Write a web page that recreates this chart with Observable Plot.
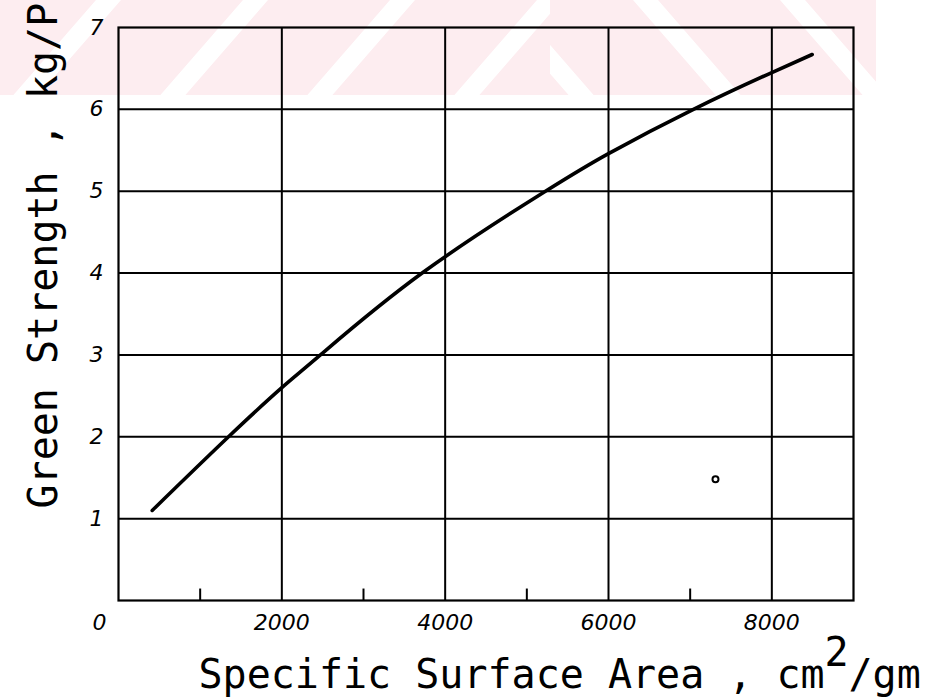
<!DOCTYPE html>
<html>
<head>
<meta charset="utf-8">
<script src="https://cdn.jsdelivr.net/npm/d3@7"></script>
<script src="https://cdn.jsdelivr.net/npm/@observablehq/plot@0.6"></script>
<style>
  html, body { margin: 0; padding: 0; background: #ffffff; }
  #wrap { position: relative; width: 927px; height: 700px; overflow: hidden; }
  #wm { position: absolute; top: 0; left: 0; z-index: 0; }
  #chart { position: absolute; top: 0; left: 0; z-index: 1; }
  #chart svg { background: transparent !important; }
</style>
</head>
<body>
<div id="wrap">
  <svg id="wm" width="927" height="95" aria-hidden="true">
    <defs>
      <pattern id="pl" patternUnits="userSpaceOnUse" width="147" height="95" patternTransform="skewX(-41)">
        <rect x="0" y="0" width="147" height="95" fill="#fdedf0"></rect>
        <rect x="96" y="0" width="25" height="95" fill="#ffffff"></rect>
      </pattern>
      <pattern id="pr" patternUnits="userSpaceOnUse" width="147" height="95" patternTransform="skewX(41)">
        <rect x="0" y="0" width="147" height="95" fill="#fdedf0"></rect>
        <rect x="45" y="0" width="25" height="95" fill="#ffffff"></rect>
      </pattern>
    </defs>
    <rect x="0" y="0" width="550" height="95" fill="url(#pl)"></rect>
    <rect x="550" y="0" width="326" height="95" fill="url(#pr)"></rect>
  </svg>
  <div id="chart"></div>
</div>
<script>
// Curve: specific surface area (cm^2/gm) vs green strength (kg/P)
const surfaceArea = [413, 1347, 2000, 2473, 3718, 5228, 6000, 7040, 8000, 8494];
const greenStrength = [1.10, 2.00, 2.60, 3.00, 4.00, 5.00, 5.46, 6.00, 6.45, 6.67];

// Axis ticks
const xTicks = [2000, 4000, 6000, 8000];
const xMinorTicks = [1000, 3000, 5000, 7000];
const yTicks = [1, 2, 3, 4, 5, 6, 7];
const yGrid = [1, 2, 3, 4, 5, 6];

// Stray mark visible in the scan
const speckX = [7310];
const speckY = [1.48];

const xLabel = "Specific Surface Area , cm";
const xLabelSup = "2";
const xLabelTail = "/gm";
const yLabel = "Green Strength , kg/P";

const curve = surfaceArea.map((x, i) => ({x, y: greenStrength[i]}));
const minor = xMinorTicks.map(x => ({x}));
const specks = speckX.map((x, i) => ({x, y: speckY[i]}));

const mono = "'DejaVu Sans Mono', 'Liberation Mono', monospace";
const sans = "'DejaVu Sans', 'Liberation Sans', sans-serif";

const chart = Plot.plot({
  width: 927,
  height: 700,
  marginLeft: 118,
  marginRight: 74,
  marginTop: 27,
  marginBottom: 100,
  style: {background: "transparent", color: "#000"},
  x: {domain: [0, 9000], axis: null},
  y: {domain: [0, 7], axis: null},
  marks: [
    Plot.gridX(xTicks, {stroke: "#000", strokeOpacity: 1, strokeWidth: 2}),
    Plot.gridY(yGrid, {stroke: "#000", strokeOpacity: 1, strokeWidth: 2}),
    Plot.ruleX(minor, {x: "x", y1: 0, y2: 0.14, stroke: "#000", strokeWidth: 2}),
    Plot.frame({stroke: "#000", strokeWidth: 2.2}),
    Plot.axisX(xTicks, {tickSize: 0, tickPadding: 14, fontSize: 22, fontStyle: "italic", fontFamily: sans, label: null, tickFormat: d => String(d)}),
    Plot.axisY(yTicks, {tickSize: 0, tickPadding: 15, fontSize: 22, fontStyle: "italic", fontFamily: sans, label: null, tickFormat: d => String(d)}),
    Plot.text([0], {x: 0, y: 0, text: d => String(d), dx: -19, dy: 22, fontSize: 22, fontStyle: "italic", fontFamily: sans, lineAnchor: "middle"}),
    Plot.line(curve, {x: "x", y: "y", curve: "natural", stroke: "#000", strokeWidth: 3.6, strokeLinecap: "round"}),
    Plot.dot(specks, {x: "x", y: "y", r: 3, stroke: "#000", strokeWidth: 2, fill: "none"}),
    Plot.text([xLabel], {frameAnchor: "bottom-left", text: d => d, textAnchor: "start", lineAnchor: "bottom", dx: 80, dy: 87, fontSize: 40, fontFamily: mono, fill: "#000"}),
    Plot.text([xLabelSup], {frameAnchor: "bottom-left", text: d => d, textAnchor: "start", lineAnchor: "bottom", dx: 706, dy: 65, fontSize: 40, fontFamily: mono, fill: "#000"}),
    Plot.text([xLabelTail], {frameAnchor: "bottom-left", text: d => d, textAnchor: "start", lineAnchor: "bottom", dx: 730, dy: 87, fontSize: 40, fontFamily: mono, fill: "#000"}),
    Plot.text([yLabel], {frameAnchor: "bottom-left", text: d => d, textAnchor: "start", lineAnchor: "bottom", rotate: -90, dx: -62, dy: -92, fontSize: 40, fontFamily: mono, fill: "#000"})
  ]
});
document.getElementById("chart").appendChild(chart);
</script>
</body>
</html>
